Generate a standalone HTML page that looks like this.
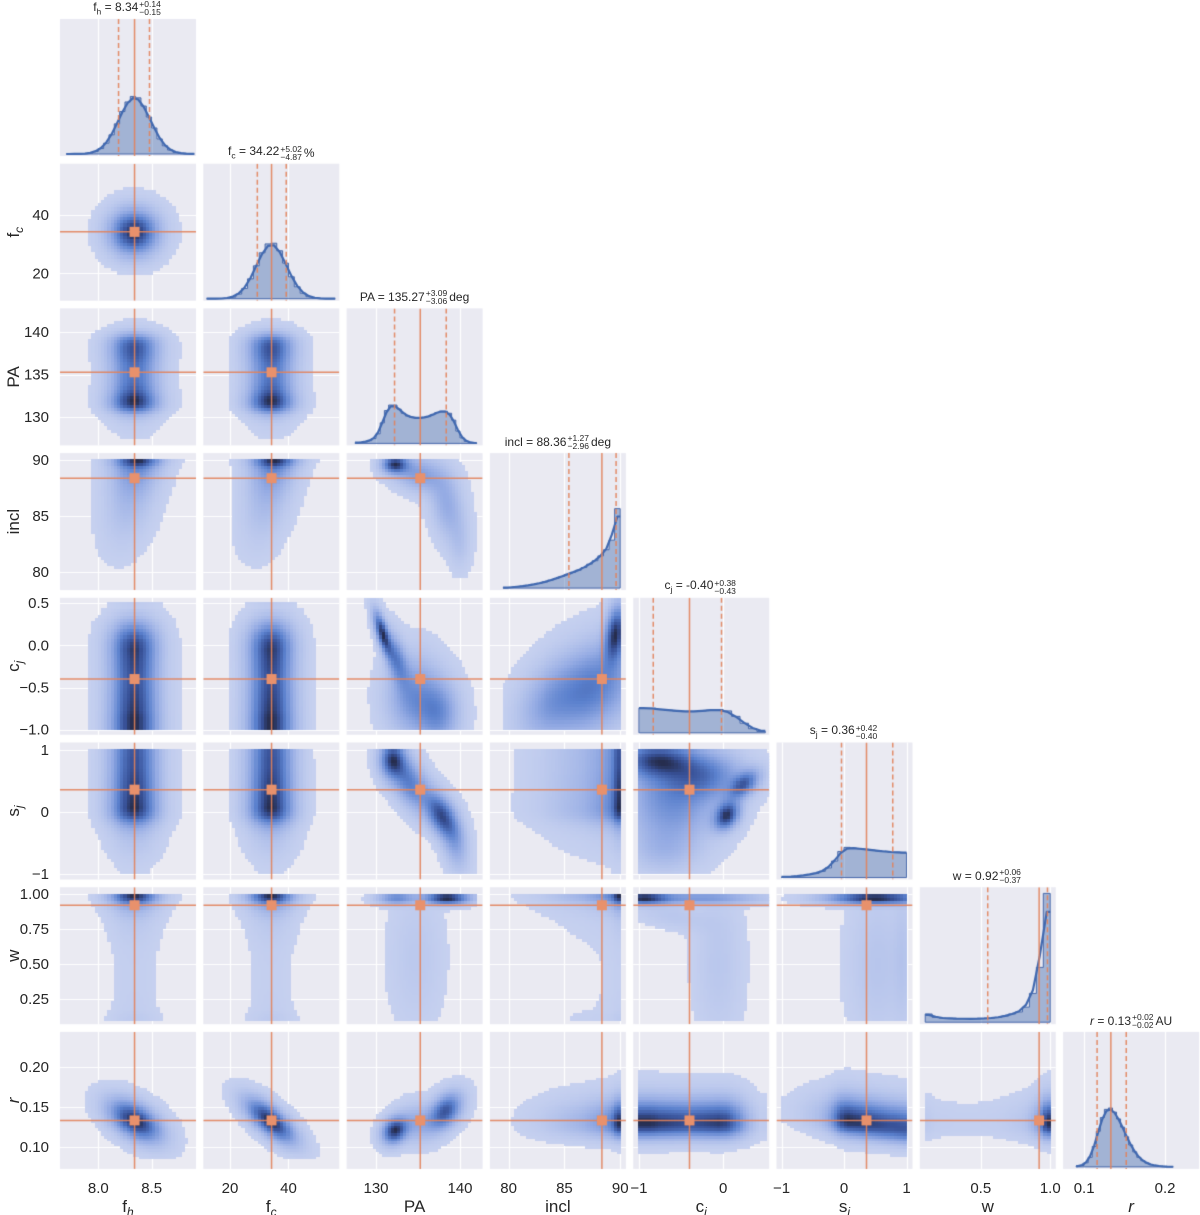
<!DOCTYPE html>
<html><head><meta charset="utf-8">
<style>
body{margin:0;background:#fff;width:1200px;height:1215px;position:relative;overflow:hidden;font-family:"Liberation Sans",Arial,sans-serif;color:#262626}
canvas,svg{position:absolute;left:0;top:0}
.ttl{position:absolute;font-size:12px;white-space:nowrap;transform:translateX(-50%);display:flex;align-items:center;line-height:1}
.ss{display:inline-flex;flex-direction:column;font-size:8.5px;line-height:8px;margin-left:1px;margin-right:2px}
.ttl sub{font-size:8.5px}
</style></head>
<body>
<canvas id="cv" width="1200" height="1215"></canvas>
<svg id="sv" width="1200" height="1215"></svg>
<div id="titles"></div>
<script>
// ---------- data ----------
const params = ['fh','fc','PA','incl','cj','sj','w','r'];
const medians = [8.34, 34.22, 135.27, 88.36, -0.40, 0.36, 0.92, 0.133];
const q16 = [8.19, 29.35, 132.21, 85.40, -0.83, -0.04, 0.55, 0.116];
const q84 = [8.48, 39.24, 138.36, 89.63, -0.02, 0.78, 0.98, 0.152];
const dataLo = [7.7, 12, 127.5, 79.5, -1, -1, 0.1, 0.085];
const dataHi = [8.9, 56, 142, 90, 0.55, 1, 1, 0.215];
const histStart = [7.7, 12, 127.5, 79.5, -1, -1, 0.1, 0.09];
const histBin = [0.05, 2, 0.5, 0.5, 0.1, 0.1, 0.05, 0.005];
const hFh = [0,.0002,.0008,.0024,.007,.018,.04,.079,.14,.22,.31,.38,.42,.41,.35,.27,.19,.11,.06,.029,.012,.005,.0015,.0005];
const hFc = [0,.0003,.001,.004,.012,.034,.075,.145,.24,.335,.40,.405,.35,.26,.16,.087,.04,.015,.005,.002,.0005,0];
const hPA = [.005,.008,.012,.02,.035,.07,.15,.24,.28,.28,.25,.22,.20,.19,.185,.185,.19,.195,.21,.225,.235,.235,.22,.17,.09,.04,.015,.006,.002];
const hIncl = [.003,.006,.01,.014,.02,.027,.035,.045,.058,.07,.085,.1,.115,.13,.15,.175,.2,.235,.28,.35,.58];
const hCj = [.18,.18,.17,.165,.16,.155,.155,.16,.165,.17,.16,.12,.07,.03,.01];
const hSj = [.004,.006,.01,.015,.022,.03,.045,.07,.12,.19,.22,.215,.21,.205,.2,.195,.19,.185,.185,.18];
const hW = [.06,.035,.03,.028,.025,.025,.025,.025,.027,.03,.035,.045,.06,.075,.11,.21,.40,.94];
const hR = [.005,.01,.03,.07,.15,.26,.36,.42,.43,.40,.35,.29,.22,.16,.11,.07,.045,.028,.016,.01,.006,.004,.002,.001];
const hists = [hFh,hFc,hPA,hIncl,hCj,hSj,hW,hR];
const xLo = [7.641, 10.86, 126.5, 78.32, -1.068, -1.08, 0.061, 0.074];
const xHi = [8.916, 57.4, 142.69, 90.51, 0.546, 1.096, 1.04, 0.242];
const yLo = [0, 10.6, 126.66, 78.38, -1.06, -1.09, 0.07, 0.0724];
const yHi = [1, 57.6, 142.8, 90.6, 0.562, 1.121, 1.049, 0.2437];
const xTicks = [[8.0,8.5],[20,40],[130,140],[80,85,90],[-1,0],[-1,0,1],[0.5,1.0],[0.1,0.2]];
const xTickLabels = [["8.0","8.5"],["20","40"],["130","140"],["80","85","90"],["−1","0"],["−1","0","1"],["0.5","1.0"],["0.1","0.2"]];
const yTicks = [[],[20,40],[130,135,140],[80,85,90],[-1,-0.5,0,0.5],[-1,0,1],[0.25,0.5,0.75,1.0],[0.10,0.15,0.20]];
const yTickLabels = [[],["20","40"],["130","135","140"],["80","85","90"],["−1.0","−0.5","0.0","0.5"],["−1","0","1"],["0.25","0.50","0.75","1.00"],["0.10","0.15","0.20"]];
const axisLabels = [["f","h",false],["f","c",false],["PA","",false],["incl","",false],["c","j",false],["s","j",false],["w","",false],["r","",true]];
const titleMain = ["8.34","34.22","135.27","88.36","-0.40","0.36","0.92","0.13"];
const titlePlus = ["+0.14","+5.02","+3.09","+1.27","+0.38","+0.42","+0.06","+0.02"];
const titleMinus = ["−0.15","−4.87","−3.06","−2.96","−0.43","−0.40","−0.37","−0.02"];
const titleUnit = [""," %"," deg"," deg","","",""," AU"];
const specs = {
 "1,0":{prod:1,blobs:[]},
 "2,0":{prod:1,blobs:[]},
 "2,1":{prod:1,blobs:[]},
 "3,0":{prod:1,kx:0.019,y0:88.4,blobs:[]},
 "3,1":{prod:1,kx:0.7,y0:88.4,blobs:[]},
 "3,2":{prod:0,blobs:[[132.3,89.6,1.0,0.5,0,1.0],[135,88.8,2.0,1.0,-0.3,0.45],[138.5,86,1.3,2.0,-0.3,0.35],[140,82.5,0.8,1.5,0,0.12]]},
 "4,0":{prod:1,blobs:[]},
 "4,1":{prod:1,blobs:[]},
 "4,2":{prod:0,blobs:[[130.8,0.15,0.7,0.17,-0.7,0.9],[132.5,-0.15,0.9,0.2,-0.5,0.5],[134.5,-0.6,2.0,0.3,0,0.45],[137.5,-0.8,1.6,0.25,0,0.45]]},
 "4,3":{prod:0,blobs:[[89.6,0.15,0.6,0.22,0.3,0.8],[87.5,-0.5,2.5,0.35,0.3,0.55],[83.5,-0.7,1.8,0.3,0.3,0.25]]},
 "5,0":{prod:1,blobs:[]},
 "5,1":{prod:1,blobs:[]},
 "5,2":{prod:0,blobs:[[132,0.85,1.0,0.2,0,0.8],[134,0.5,1.5,0.3,-0.5,0.6],[137.8,-0.05,1.3,0.25,-0.5,0.85],[139.5,-0.5,1.0,0.3,-0.3,0.3]]},
 "5,3":{prod:1,blobs:[]},
 "5,4":{prod:0,blobs:[[-0.8,0.85,0.3,0.2,0,0.7],[-0.6,0.2,0.35,0.45,0,0.45],[0.05,-0.05,0.1,0.15,0.3,0.8],[0.25,0.45,0.12,0.15,0.5,0.6],[-0.2,0.6,0.3,0.25,0,0.45],[-0.7,-0.6,0.25,0.25,0,0.15]]},
 "6,0":{prod:1,blobs:[]},
 "6,1":{prod:1,blobs:[]},
 "6,2":{prod:0,blobs:[[138.5,0.975,1.8,0.03,0,1],[132.5,0.975,1.5,0.03,0,0.5],[134.8,0.55,2.0,0.32,0,0.07]]},
 "6,3":{prod:1,blobs:[]},
 "6,4":{prod:0,blobs:[[-0.95,0.975,0.2,0.03,0,1],[-0.3,0.975,0.5,0.03,0,0.5],[-0.05,0.5,0.18,0.35,0,0.1],[-0.6,0.85,0.3,0.07,-0.5,0.1]]},
 "6,5":{prod:0,blobs:[[0.5,0.975,0.5,0.03,0,1],[0.55,0.5,0.3,0.35,0,0.1],[0.95,0.55,0.1,0.35,0,0.08]]},
 "7,0":{prod:0,blobs:[[8.35,0.133,0.16,0.017,-0.5,1]]},
 "7,1":{prod:0,blobs:[[34,0.133,5.5,0.018,-0.7,1]]},
 "7,2":{prod:0,blobs:[[132.3,0.121,1.0,0.011,0.2,1],[138.3,0.145,1.3,0.015,0.4,0.85],[135,0.13,1.5,0.015,0,0.3]]},
 "7,3":{prod:1,blobs:[]},
 "7,4":{prod:1,blobs:[]},
 "7,5":{prod:1,ky:-0.01,x0:0.36,blobs:[]},
 "7,6":{prod:1,blobs:[]}
};
// ---------- geometry ----------
const PL=60, PS=143.3, PT=19, PV=144.7, W=136, H=137;
function L(i){return PL+PS*i;}
function T(j){return PT+PV*j;}
function X(i,v){return L(i)+(v-xLo[i])/(xHi[i]-xLo[i])*W;}
function Y(j,v){return T(j)+(yHi[j]-v)/(yHi[j]-yLo[j])*H;}
function hv(p,v){const s=histStart[p],b=histBin[p],a=hists[p],n=a.length;if(v<s||v>s+n*b)return 0;const f=(v-s)/b-0.5;if(f<=0)return a[0];if(f>=n-1)return a[n-1];const i=Math.floor(f),t=f-i;return a[i]*(1-t)+a[i+1]*t;}
function dens(sp,c,r,x,y){
  let d=0;
  if(sp.prod){const xs=x-(sp.kx||0)*(y-(sp.y0||0));const ys=y-(sp.ky||0)*(x-(sp.x0||0));d+=sp.prod*hv(c,xs)*hv(r,ys);}
  for(const b of sp.blobs){const dx=(x-b[0])/b[2],dy=(y-b[1])/b[3],rho=b[4];const q=(dx*dx-2*rho*dx*dy+dy*dy)/(1-rho*rho);d+=b[5]*Math.exp(-q/2);}
  return d;
}
const stops=[[0,200,210,240],[0.3,150,172,228],[0.6,90,128,205],[0.85,55,80,150],[1,38,45,78]];
function cmap(t){t=Math.max(0,Math.min(1,t));for(let k=1;k<stops.length;k++){if(t<=stops[k][0]){const a=stops[k-1],b=stops[k],u=(t-a[0])/(b[0]-a[0]);return `rgb(${Math.round(a[1]+(b[1]-a[1])*u)},${Math.round(a[2]+(b[2]-a[2])*u)},${Math.round(a[3]+(b[3]-a[3])*u)})`;}}return 'rgb(38,45,78)';}
// ---------- draw ----------
const cv=document.getElementById('cv'),ctx=cv.getContext('2d');
const ORG='rgba(226,130,90,0.9)';
function grid(j,i,diag){
  ctx.fillStyle='#eaeaf2';ctx.fillRect(L(i),T(j),W,H);
  ctx.strokeStyle='#fff';ctx.lineWidth=1.2;
  for(const t of xTicks[i]){const x=Math.round(X(i,t))+0.5;ctx.beginPath();ctx.moveTo(x,T(j));ctx.lineTo(x,T(j)+H);ctx.stroke();}
  if(!diag)for(const t of yTicks[j]){const y=Math.round(Y(j,t))+0.5;ctx.beginPath();ctx.moveTo(L(i),y);ctx.lineTo(L(i)+W,y);ctx.stroke();}
}
const NB=40;
for(let j=0;j<8;j++){
  for(let i=0;i<=j;i++){
    ctx.save();
    if(i===j){
      grid(j,i,true);
      ctx.beginPath();ctx.rect(L(i),T(j),W,H);ctx.clip();
      const a=hists[i],s=histStart[i],b=histBin[i],base=T(j)+H-2;
      ctx.beginPath();ctx.moveTo(X(i,s),base);
      for(let k=0;k<a.length;k++){const y=base-a[k]*H;ctx.lineTo(X(i,s+k*b),y);ctx.lineTo(X(i,s+(k+1)*b),y);}
      ctx.lineTo(X(i,s+a.length*b),base);ctx.closePath();
      ctx.fillStyle='rgba(76,114,176,0.45)';ctx.fill();
      ctx.strokeStyle='rgba(60,95,165,0.9)';ctx.lineWidth=1;ctx.stroke();
      const sm=a.map((v,k)=>0.25*a[Math.max(0,k-1)]+0.5*v+0.25*a[Math.min(a.length-1,k+1)]);
      ctx.beginPath();
      ctx.moveTo(X(i,s),base-sm[0]*H);
      for(let k=0;k<a.length;k++)ctx.lineTo(X(i,s+(k+0.5)*b),base-sm[k]*H);
      ctx.lineTo(X(i,s+a.length*b),base-sm[a.length-1]*H);
      ctx.strokeStyle='#4169b0';ctx.lineWidth=2.2;ctx.lineJoin='round';ctx.stroke();
      ctx.strokeStyle=ORG;ctx.lineWidth=1.5;
      let x=X(i,medians[i]);ctx.beginPath();ctx.moveTo(x,T(j));ctx.lineTo(x,T(j)+H);ctx.stroke();
      ctx.setLineDash([5,3]);
      for(const q of [q16[i],q84[i]]){x=X(i,q);ctx.beginPath();ctx.moveTo(x,T(j));ctx.lineTo(x,T(j)+H);ctx.stroke();}
      ctx.setLineDash([]);
    }else{
      grid(j,i,false);
      ctx.beginPath();ctx.rect(L(i),T(j),W,H);ctx.clip();
      const sp=specs[j+','+i];const vals=[];let mx=0;
      const dx=(dataHi[i]-dataLo[i])/NB,dy=(dataHi[j]-dataLo[j])/NB;
      for(let a=0;a<NB;a++)for(let b=0;b<NB;b++){const v=dens(sp,i,j,dataLo[i]+(a+0.5)*dx,dataLo[j]+(b+0.5)*dy);vals.push(v);if(v>mx)mx=v;}
      for(let a=0;a<NB;a++)for(let b=0;b<NB;b++){
        const t=vals[a*NB+b]/mx;if(t<0.012)continue;
        const x0=Math.floor(X(i,dataLo[i]+a*dx)),x1=Math.ceil(X(i,dataLo[i]+(a+1)*dx));
        const y0=Math.floor(Y(j,dataLo[j]+(b+1)*dy)),y1=Math.ceil(Y(j,dataLo[j]+b*dy));
        ctx.fillStyle=cmap(t);ctx.fillRect(x0,y0,x1-x0,y1-y0);
      }
      ctx.strokeStyle=ORG;ctx.lineWidth=1.5;
      const mxp=X(i,medians[i]),myp=Y(j,medians[j]);
      ctx.beginPath();ctx.moveTo(mxp,T(j));ctx.lineTo(mxp,T(j)+H);ctx.stroke();
      ctx.beginPath();ctx.moveTo(L(i),myp);ctx.lineTo(L(i)+W,myp);ctx.stroke();
      ctx.fillStyle='#e8916c';ctx.fillRect(mxp-5,myp-5,10,10);
    }
    ctx.restore();
  }
}
// ---------- text ----------
const NS='http://www.w3.org/2000/svg',sv=document.getElementById('sv');
function txt(x,y,s,size,anchor,name){const e=document.createElementNS(NS,'text');e.setAttribute('x',x);e.setAttribute('y',y);e.setAttribute('font-size',size);e.setAttribute('text-anchor',anchor);e.setAttribute('fill','#262626');e.setAttribute('font-family','Liberation Sans, Arial, sans-serif');e.textContent=s;


sv.appendChild(e);return e;}
for(let i=0;i<8;i++){
  xTicks[i].forEach((t,k)=>{txt(X(i,t),1193,xTickLabels[i][k],15,'middle','x-tick-label');});
}
for(let j=1;j<8;j++){
  yTicks[j].forEach((t,k)=>{txt(49,Y(j,t)+5,yTickLabels[j][k],15,'end','y-tick-label');});
}
function axLabel(e,lab){
  const m=document.createElementNS(NS,'tspan');m.textContent=lab[0];if(lab[2])m.setAttribute('font-style','italic');e.appendChild(m);
  if(lab[1]){const s=document.createElementNS(NS,'tspan');s.textContent=lab[1];s.setAttribute('font-size','12');s.setAttribute('font-style','italic');s.setAttribute('dy','4');e.appendChild(s);}
}
for(let i=0;i<8;i++){
  const e=txt(L(i)+W/2,1212,'',17,'middle','x-axis-label');axLabel(e,axisLabels[i]);
}
for(let j=1;j<8;j++){
  const cy=T(j)+H/2;const e=txt(0,0,'',17,'middle','y-axis-label');
  e.setAttribute('transform',`translate(19,${cy}) rotate(-90)`);axLabel(e,axisLabels[j]);
}
const tdiv=document.getElementById('titles');
const tnames=['f<sub>h</sub>','f<sub>c</sub>','PA','incl','c<sub>j</sub>','s<sub>j</sub>','w','<i>r</i>'];
for(let i=0;i<8;i++){
  const d=document.createElement('div');d.className='ttl';
  
  
  d.style.left=(L(i)+W/2)+'px';d.style.top=(T(i)-19)+'px';
  d.innerHTML=`<span>${tnames[i]} = ${titleMain[i]}</span><span class="ss"><span>${titlePlus[i]}</span><span>${titleMinus[i]}</span></span><span>${titleUnit[i]}</span>`;
  tdiv.appendChild(d);
}
</script>
</body></html>
